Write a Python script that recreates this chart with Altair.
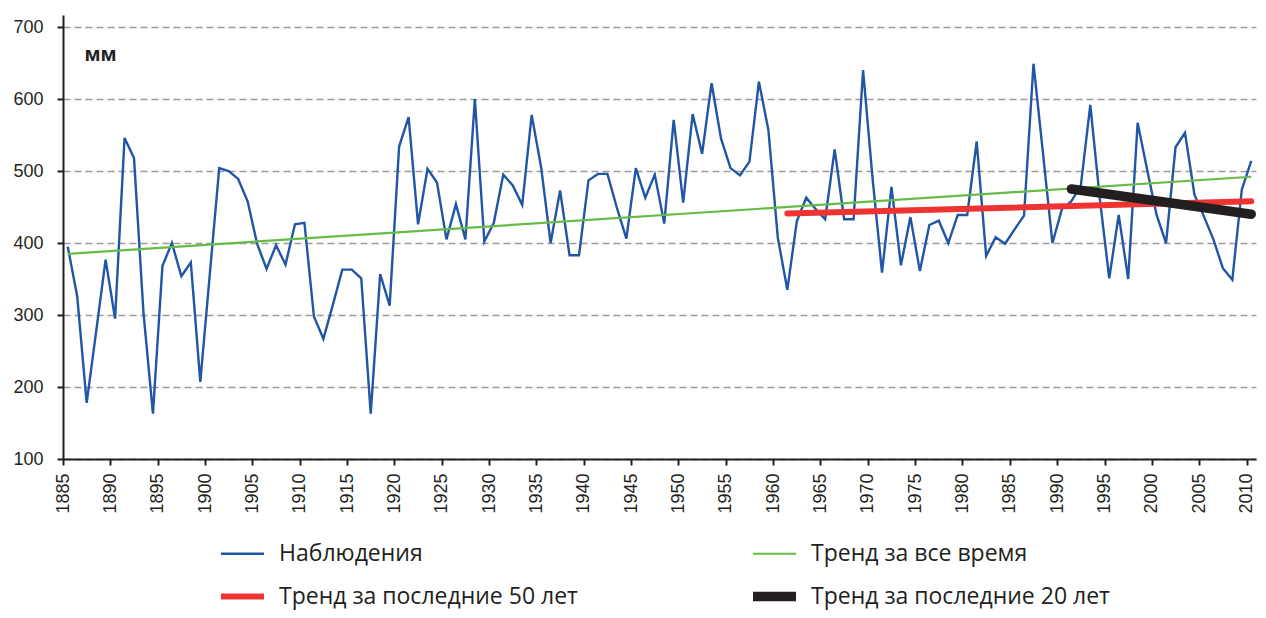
import altair as alt
import pandas as pd
import json

# ---- data ----
years = list(range(1885, 2011))
precip = [395, 326, 178, 277, 377, 295, 546, 518, 303, 163,
          368, 400, 354, 373, 207, 356, 504, 500, 489, 458,
          399, 364, 397, 370, 426, 428, 298, 267, 314, 363,
          363, 351, 163, 357, 313, 534, 575, 426, 503, 484,
          405, 454, 405, 600, 402, 428, 495, 480, 453, 578,
          505, 400, 473, 383, 383, 487, 496, 496, 449, 406,
          504, 463, 495, 427, 571, 456, 579, 524, 622, 545,
          504, 494, 513, 624, 557, 407, 335, 430, 463, 447,
          433, 530, 433, 433, 640, 490, 359, 478, 369, 436,
          361, 425, 431, 400, 439, 439, 541, 382, 408, 399,
          419, 438, 649, 525, 400, 447, 458, 480, 592, 462,
          351, 439, 350, 567, 502, 439, 400, 533, 553, 467,
          437, 405, 365, 349, 474, 514]

trend_all_years = [1885, 2010]
trend_all_vals = [385, 492]
trend_50_years = [1961, 2010]
trend_50_vals = [441, 458]
trend_20_years = [1991, 2010]
trend_20_vals = [475, 440]

obs_name = "Наблюдения"
all_name = "Тренд за все время"
t50_name = "Тренд за последние 50 лет"
t20_name = "Тренд за последние 20 лет"

# legend entries are laid out column by column
legend_order = [obs_name, t50_name, all_name, t20_name]
legend_colors = ["#2155a5", "#ee3433", "#66bb46", "#231f20"]
legend_widths = [2.4, 6, 2.2, 9.5]

# drawing order (bottom to top) with line widths
draw_order = [obs_name, all_name, t50_name, t20_name]
draw_widths = [2.4, 2.2, 6, 9.5]
draw_caps = ["butt", "butt", "round", "round"]

x_ticks = list(range(1885, 2011, 5))
y_ticks = [100, 200, 300, 400, 500, 600, 700]

rows = []
for yr, v in zip(years, precip):
    rows.append({"year": yr, "value": v, "series": obs_name})
for ys, vs, nm in [(trend_all_years, trend_all_vals, all_name),
                   (trend_50_years, trend_50_vals, t50_name),
                   (trend_20_years, trend_20_vals, t20_name)]:
    for yr, v in zip(ys, vs):
        rows.append({"year": yr, "value": v, "series": nm})
df = pd.DataFrame(rows)

names_js = json.dumps(legend_order, ensure_ascii=False)
widths_js = json.dumps(legend_widths)
width_expr = (
    "isValid(datum) && indexof({n}, datum.value) >= 0 ? "
    "{w}[indexof({n}, datum.value)] : 0"
).format(n=names_js, w=widths_js)

legend = alt.Legend(
    orient="none", legendX=168, legendY=527, columns=2, title=None,
    symbolType="stroke", symbolSize=1849, labelFont="Open Sans",
    labelFontSize=23, labelColor="#231f20", labelOffset=25,
    labelLimit=500, columnPadding=156, rowPadding=11, padding=0,
    symbolStrokeWidth={"expr": width_expr},
)

base = alt.Chart(df).transform_calculate(
    pos="datum.year + 0.5"
).encode(
    x=alt.X("pos:Q",
            scale=alt.Scale(domain=[1885, 2011], nice=False, zero=False),
            axis=alt.Axis(values=x_ticks, format="d", labelAngle=-90,
                          grid=False, labelPadding=8, labelFontSize=18),
            title=None),
    y=alt.Y("value:Q",
            scale=alt.Scale(domain=[100, 716.7], nice=False, zero=False),
            axis=alt.Axis(values=y_ticks, grid=True, labelPadding=14,
                          labelFontSize=18,
                          title="мм", titleAngle=0, titleX=21, titleY=45,
                          titleAlign="left", titleBaseline="alphabetic",
                          titleFont="Open Sans", titleFontSize=19,
                          titleFontWeight="bold", titleColor="#231f20")),
    color=alt.Color("series:N",
                    scale=alt.Scale(domain=legend_order, range=legend_colors),
                    legend=legend),
)

layers = []
for nm, w, cap in zip(draw_order, draw_widths, draw_caps):
    layers.append(
        base.transform_filter(alt.datum.series == nm).mark_line(
            strokeWidth=w, strokeCap=cap, strokeJoin="miter")
    )

chart = alt.layer(*layers).properties(
    width=1193, height=444,
    autosize=alt.AutoSizeParams(type="none"),
    padding={"left": 55, "top": 7, "right": 2, "bottom": 151},
    background="white",
).configure_view(stroke=None).configure_axis(
    labelFont="Liberation Sans", labelColor="#231f20",
    domainColor="#231f20", domainWidth=2,
    tickColor="#231f20", tickWidth=2, tickSize=6,
    gridColor="#9c9c9c", gridWidth=1.6, gridDash=[7, 4],
)

chart.save("out.html", embed_options={"renderer": "svg", "actions": False})
